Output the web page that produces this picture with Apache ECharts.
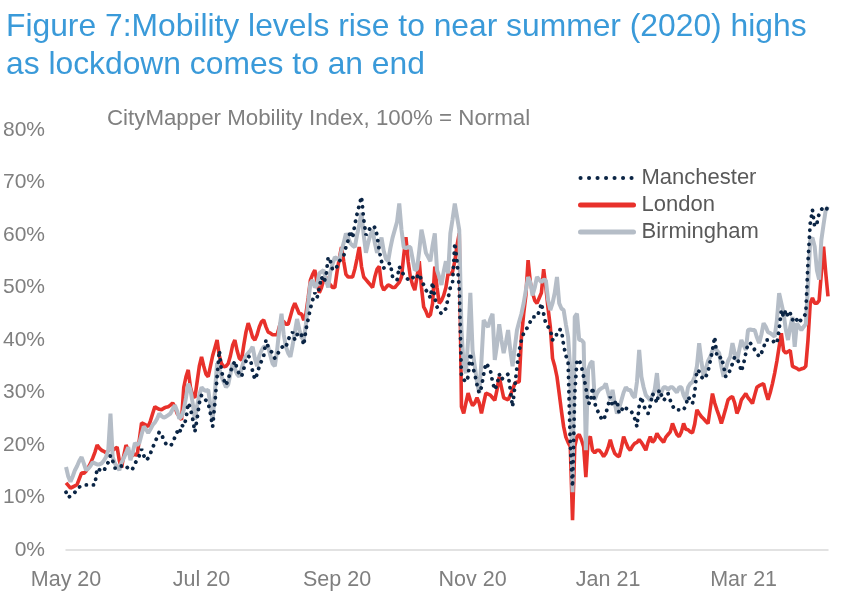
<!DOCTYPE html>
<html><head><meta charset="utf-8">
<script src="https://cdn.jsdelivr.net/npm/echarts@6/dist/echarts.min.js"></script>
<style>html,body{margin:0;padding:0;background:#fff}#c{width:858px;height:600px}</style>
</head><body><div id="c"></div>
<script>
const startDate = '2020-05-10';
const tickLabels = ['May 20', 'Jul 20', 'Sep 20', 'Nov 20', 'Jan 21', 'Mar 21'];
const tickStep = 61;
const seriesNames = ['Manchester', 'London', 'Birmingham'];

const london = [
12.8,12.3,11.8,12.0,12.2,12.5,13.6,14.7,14.6,15.0,
15.7,16.5,17.5,18.6,20.0,19.4,19.0,18.8,18.5,18.9,
19.6,19.0,19.3,19.6,17.0,15.7,18.0,20.0,19.0,18.0,
18.0,18.3,18.0,21.0,24.2,24.0,23.8,23.5,24.6,26.0,
27.3,27.0,26.8,26.7,27.0,27.2,27.3,27.6,28.0,27.3,
26.0,25.5,24.8,31.0,33.0,34.3,31.0,29.5,29.0,32.0,
35.0,36.8,35.0,33.5,33.0,35.0,37.0,38.5,40.0,37.0,
35.5,34.9,35.0,35.5,37.0,39.0,40.0,38.0,36.5,36.2,
39.0,41.5,43.2,42.0,40.5,40.0,41.0,42.5,43.5,43.8,
42.5,41.5,41.3,41.0,41.0,41.0,42.5,43.8,43.5,43.0,
43.0,44.5,46.0,47.0,46.0,45.0,45.0,43.8,45.0,48.0,
51.4,52.5,53.3,51.0,49.0,50.0,51.5,52.0,51.0,50.5,
50.0,50.0,53.0,55.5,57.7,55.0,52.5,52.0,52.0,52.0,
53.5,55.5,57.7,54.0,52.0,51.5,51.0,50.5,50.0,52.0,
53.5,54.0,50.5,49.5,50.0,50.5,50.3,50.0,50.0,50.5,
51.0,52.0,56.0,59.6,55.0,52.0,50.5,49.5,52.0,55.0,
50.0,46.3,45.5,44.4,44.8,47.0,54.0,50.0,47.0,47.5,
48.5,50.0,52.7,52.5,53.0,55.0,58.0,60.3,27.3,26.0,
28.0,29.9,28.5,27.5,28.0,29.0,28.0,26.0,28.0,29.9,
29.7,29.5,29.0,28.5,30.5,33.0,31.0,29.0,28.8,28.6,
29.5,30.5,31.7,32.0,32.0,40.6,45.0,48.5,55.2,51.0,
49.0,47.5,47.0,48.0,49.0,53.5,50.0,46.0,42.5,36.5,
35.0,33.0,29.8,26.5,23.5,21.5,20.5,19.7,5.7,19.7,
21.6,22.0,21.0,19.7,13.9,21.0,21.6,19.0,18.5,19.0,
19.0,18.5,17.8,18.4,19.5,21.0,19.5,18.4,18.0,17.8,
19.5,21.6,20.5,19.5,19.0,19.8,20.3,20.5,21.0,20.5,
19.8,19.0,20.5,21.6,20.5,21.0,22.2,21.5,21.0,20.5,
21.5,22.0,22.5,24.1,23.0,22.0,21.6,22.5,24.1,23.0,
22.9,22.5,22.3,24.0,26.7,26.0,25.4,25.0,24.5,24.1,
27.0,29.8,28.0,26.7,25.5,24.1,25.5,27.0,28.6,29.0,
29.2,28.0,26.0,27.0,28.6,29.2,29.8,29.0,28.5,27.9,
29.5,31.0,31.3,31.5,31.7,30.0,28.6,30.0,31.7,33.7,
36.0,38.7,41.3,38.0,37.5,37.8,38.0,35.0,34.8,34.6,
34.3,34.5,34.6,35.0,40.0,47.0,48.0,47.0,47.0,47.5,
52.7,57.8,52.7,48.3
];

const birmingham = [
15.8,14.0,13.0,14.0,15.2,16.0,17.0,17.7,16.5,15.2,
15.5,16.0,16.7,16.5,16.3,16.3,16.5,17.0,17.7,19.0,
26.0,17.7,16.5,15.8,15.2,16.7,17.5,18.5,19.6,17.1,
18.5,20.4,20.0,20.4,22.0,23.5,23.0,22.3,23.0,23.8,
24.3,25.0,26.0,25.5,25.2,25.4,25.7,26.0,26.8,27.6,
26.5,25.0,25.5,26.7,29.0,31.7,30.5,28.0,24.8,27.5,
29.5,31.0,30.5,30.3,30.5,27.5,24.8,30.0,35.6,34.5,
33.0,32.0,31.0,31.5,33.5,35.6,34.5,33.5,33.0,34.5,
36.0,37.0,37.5,38.0,38.7,36.5,35.0,37.0,38.0,38.7,
38.7,38.7,37.0,35.5,35.0,38.0,42.0,45.0,41.0,38.7,
37.5,36.8,39.0,41.5,44.0,42.0,40.5,40.0,43.0,47.0,
50.8,51.4,50.0,50.5,52.7,53.0,53.3,51.5,50.0,53.0,
54.5,55.8,55.5,55.2,57.0,58.5,60.3,59.5,58.4,58.0,
57.7,60.0,62.0,64.2,60.0,56.6,58.5,60.0,61.0,58.5,
56.6,58.0,59.5,57.0,55.5,55.0,57.5,59.5,61.0,62.5,
66.0,61.0,57.7,57.5,57.7,57.7,55.5,53.3,53.5,57.0,
61.0,59.0,56.6,55.8,55.0,58.0,60.3,53.3,52.0,50.5,
53.0,55.0,52.7,60.3,63.0,66.0,63.5,61.0,42.0,35.0,
33.7,40.0,49.0,38.0,35.0,32.0,29.9,36.0,43.8,43.0,
42.5,44.0,45.0,36.2,39.0,43.0,40.0,37.5,39.5,41.9,
38.0,35.0,38.5,41.9,43.5,45.0,47.0,49.5,52.0,51.0,
48.5,50.0,52.0,51.5,51.0,51.5,51.4,47.6,45.7,47.0,
49.0,52.0,47.0,46.0,45.7,43.0,40.6,34.3,11.0,44.4,
45.0,40.0,40.0,39.5,19.0,34.3,35.5,36.0,28.6,29.8,
30.5,30.8,31.0,31.7,30.0,28.5,30.5,28.0,26.0,27.0,
28.5,30.0,31.0,30.5,30.5,29.5,29.0,32.0,38.1,33.0,
31.0,29.5,29.0,28.5,29.5,30.5,33.7,29.0,30.0,31.0,
31.0,30.5,31.0,31.0,30.5,30.0,31.0,31.0,29.5,28.6,
31.0,31.7,32.0,33.0,35.0,39.4,36.0,33.0,34.5,36.0,
36.8,38.0,38.7,38.0,37.5,35.0,33.0,34.5,36.0,36.8,
39.4,37.5,36.0,38.0,40.0,39.0,38.1,41.9,42.0,41.9,
41.9,40.5,39.4,41.0,43.2,42.5,41.5,41.3,41.0,40.6,
43.8,48.9,47.0,45.1,42.0,40.0,42.5,44.4,38.7,43.2,
42.5,41.9,42.5,43.0,50.2,59.0,59.5,57.8,53.3,51.5,
59.0,62.0,64.8,65.4
];

const manchester = [
11.0,10.0,10.3,10.6,11.0,11.5,12.0,12.2,12.3,12.4,
12.4,12.4,12.4,12.4,15.6,15.3,15.0,15.0,16.0,16.7,
18.0,17.0,15.6,15.6,16.0,16.0,16.2,16.0,15.5,15.2,
15.5,16.5,17.1,18.0,19.2,18.0,17.1,17.5,18.4,19.5,
20.5,21.5,22.5,22.0,21.0,20.2,20.0,19.8,20.4,21.5,
22.5,22.0,23.8,23.5,25.0,28.0,27.0,25.0,22.5,25.0,
28.0,29.5,29.0,28.5,28.0,26.0,23.5,28.0,33.0,38.0,
34.0,32.5,31.4,32.5,34.0,35.0,36.0,34.5,33.5,33.0,
34.5,36.0,37.0,36.5,34.0,32.5,33.5,35.0,36.0,37.0,
40.0,38.7,38.0,37.5,36.5,37.0,38.0,38.5,39.0,38.7,
40.0,41.0,41.5,40.0,41.0,41.5,41.0,39.0,42.0,44.0,
46.0,47.6,49.0,48.0,50.0,52.0,51.0,52.0,55.8,55.0,
53.3,53.5,54.0,55.0,55.5,56.0,57.7,59.0,60.8,59.4,
62.0,64.0,65.7,67.3,63.0,60.0,60.5,61.5,61.2,61.5,
60.0,57.0,55.0,53.7,54.0,54.5,54.6,52.0,51.5,51.4,
54.0,53.0,52.5,52.0,51.5,52.0,52.0,51.5,52.0,52.6,
51.4,50.5,49.5,49.0,48.0,51.0,48.0,46.3,45.5,45.0,
45.5,46.0,48.0,50.0,51.0,58.5,55.0,50.0,33.0,32.5,
32.0,33.0,37.5,35.0,33.5,31.5,29.9,31.0,33.5,35.6,
35.0,34.3,32.0,30.5,31.5,33.5,32.4,33.0,33.2,33.5,
30.5,27.3,31.0,35.0,38.0,40.0,41.3,42.0,42.5,43.5,
44.4,44.4,44.4,45.5,47.0,45.0,43.0,42.5,42.0,40.0,
41.0,41.0,42.0,41.9,39.0,37.0,36.0,20.0,12.0,29.8,
36.2,36.2,35.0,33.0,31.0,28.0,27.9,31.0,28.0,26.7,
26.0,25.0,24.7,26.0,27.5,29.2,27.4,28.0,28.5,26.0,
26.5,27.4,27.0,26.8,26.7,26.0,25.0,23.5,27.4,29.2,
27.5,26.7,26.0,27.5,29.8,29.0,28.0,30.5,29.5,28.5,
29.0,29.8,28.5,27.5,26.7,26.7,26.7,26.5,26.7,27.5,
29.2,28.5,27.9,30.0,34.3,34.0,33.0,32.5,33.0,34.0,
36.0,38.1,40.6,36.8,36.5,36.8,35.0,33.0,33.5,34.3,
35.5,36.8,36.5,35.6,34.0,35.5,37.5,39.4,39.4,39.0,
38.1,37.5,36.8,37.5,38.5,40.0,40.0,40.0,40.0,39.4,
39.4,42.0,45.7,44.4,45.7,44.4,45.1,43.8,44.4,43.8,
43.2,44.0,44.4,45.0,55.0,62.2,64.8,61.6,62.2,64.1,
64.8,65.4,65.0,65.0
];

const categories = [];
(function () {
  const d0 = new Date(startDate + 'T00:00:00Z').getTime();
  for (let i = 0; i < london.length; i++) {
    categories.push(new Date(d0 + i * 86400000).toISOString().slice(0, 10));
  }
})();

const FONT = "'Liberation Sans', Arial, sans-serif";
const COLORS = { Manchester: '#0B2545', London: '#E8312B', Birmingham: '#B5BDC7' };
const chart = echarts.init(document.getElementById('c'), null, { renderer: 'canvas' });
chart.setOption({
  animation: false,
  backgroundColor: '#ffffff',
  title: [
    {
      text: 'Figure 7:Mobility levels rise to near summer (2020) highs\nas lockdown comes to an end',
      left: 6, top: 8, padding: 0,
      textStyle: { fontFamily: FONT, fontSize: 31.8, fontWeight: 'normal', color: '#3A9AD9', lineHeight: 38 }
    },
    {
      text: 'CityMapper Mobility Index, 100% = Normal',
      left: 107, top: 108, padding: 0,
      textStyle: { fontFamily: FONT, fontSize: 22.3, fontWeight: 'normal', color: '#808080' }
    }
  ],
  legend: {
    data: [
      { name: seriesNames[0], lineStyle: { width: 4, type: [0.1, 8.4], cap: 'round', color: COLORS.Manchester } },
      { name: seriesNames[1], lineStyle: { width: 5, color: COLORS.London, cap: 'round' } },
      { name: seriesNames[2], lineStyle: { width: 5, color: COLORS.Birmingham, cap: 'round' } }
    ],
    orient: 'vertical',
    left: 578, top: 167,
    padding: 0,
    itemWidth: 53, itemHeight: 14, itemGap: 5,
    itemStyle: { opacity: 0 },
    textStyle: { fontFamily: FONT, fontSize: 22, color: '#595959', lineHeight: 22, padding: [0, 0, 0, 3] }
  },
  grid: { left: 66, right: 30, top: 130, bottom: 50 },
  xAxis: {
    type: 'category',
    data: categories,
    boundaryGap: false,
    axisLine: { lineStyle: { color: '#D9D9D9', width: 1.5 } },
    axisTick: { show: false },
    axisLabel: {
      interval: tickStep - 1,
      margin: 19,
      color: '#7F7F7F', fontSize: 21.5, fontFamily: FONT,
      formatter: function (v, idx) { return tickLabels[Math.round(idx / tickStep)] || ''; }
    },
    splitLine: { show: false }
  },
  yAxis: {
    type: 'value', min: 0, max: 80, interval: 10,
    axisLine: { show: false }, axisTick: { show: false },
    splitLine: { show: false },
    axisLabel: { formatter: '{value}%', color: '#7F7F7F', fontSize: 21, fontFamily: FONT, margin: 21 }
  },
  series: [
    {
      name: 'London', type: 'line', data: london, symbol: 'none', z: 2,
      itemStyle: { color: COLORS.London },
      lineStyle: { color: COLORS.London, width: 3.6 }
    },
    {
      name: 'Birmingham', type: 'line', data: birmingham, symbol: 'none', z: 3,
      itemStyle: { color: COLORS.Birmingham },
      lineStyle: { color: COLORS.Birmingham, width: 4 }
    },
    {
      name: 'Manchester', type: 'line', data: manchester, symbol: 'none', z: 4,
      itemStyle: { color: COLORS.Manchester },
      lineStyle: { color: COLORS.Manchester, width: 3.8, type: [0.1, 7], cap: 'round' }
    }
  ]
});
</script>
</body></html>
